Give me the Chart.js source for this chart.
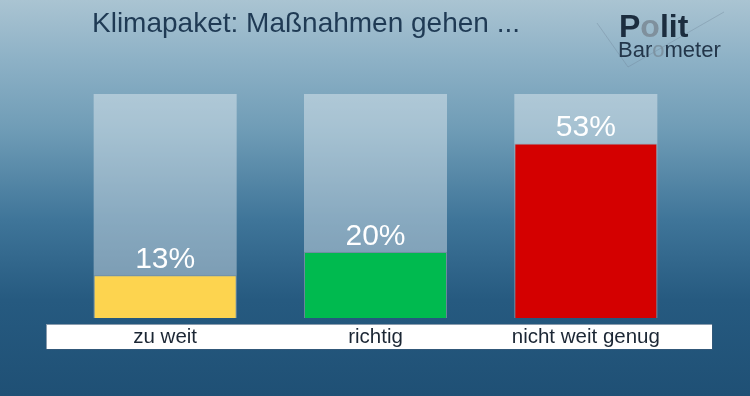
<!DOCTYPE html>
<html>
<head>
<meta charset="utf-8">
<script src="https://cdn.jsdelivr.net/npm/chart.js@4/dist/chart.umd.min.js"></script>
<style>
  html, body { margin: 0; padding: 0; width: 750px; height: 396px; overflow: hidden; }
  body {
    background: linear-gradient(to bottom, #aac4d2 0px, #8db1c6 60px, #6f9cb6 130px, #3f7599 220px, #265a80 300px, #1f5075 396px);
  }
  #wrap { position: relative; width: 750px; height: 396px; }
</style>
</head>
<body>
<div id="wrap"><canvas id="c" width="750" height="396"></canvas></div>
<script>
// ---- data ----
const title = "Klimapaket: Maßnahmen gehen ...";
const categories = ["zu weit", "richtig", "nicht weit genug"];
const values = [13, 20, 53];
const valueLabels = ["13%", "20%", "53%"];
const barColors = ["#fdd44f", "#00ba4f", "#d40000"];
const scaleMax = 68;
const trackValues = categories.map(() => scaleMax);

const FONT = '"Liberation Sans", Arial, Helvetica, sans-serif';

const overlay = {
  id: 'overlay',
  afterDatasetsDraw(chart) {
    const ctx = chart.ctx;
    const x = chart.scales.x, y = chart.scales.y;
    ctx.save();
    ctx.fillStyle = '#ffffff';
    ctx.font = '30px ' + FONT;
    ctx.textAlign = 'center';
    ctx.textBaseline = 'alphabetic';
    values.forEach((v, i) => {
      ctx.fillText(valueLabels[i], x.getPixelForValue(i), y.getPixelForValue(v) - 7);
    });
    ctx.restore();
  },
  afterDraw(chart) {
    const ctx = chart.ctx;
    const x = chart.scales.x;
    ctx.save();
    // white category band
    ctx.fillStyle = '#ffffff';
    ctx.fillRect(46, 324, 666, 25);
    ctx.strokeStyle = 'rgba(60,90,120,0.6)';
    ctx.lineWidth = 1;
    ctx.strokeRect(46.5, 324.5, 666, 25);
    ctx.fillStyle = '#1b2634';
    ctx.font = '20.5px ' + FONT;
    ctx.textAlign = 'center';
    ctx.textBaseline = 'alphabetic';
    categories.forEach((c, i) => ctx.fillText(c, x.getPixelForValue(i), 343));

    // title
    ctx.textAlign = 'left';
    ctx.fillStyle = '#1f3a54';
    ctx.font = '28px ' + FONT;
    ctx.fillText(title, 92, 32);

    // logo check-mark lines
    ctx.strokeStyle = 'rgba(110,130,148,0.35)';
    ctx.lineWidth = 1;
    ctx.beginPath();
    ctx.moveTo(597, 23);
    ctx.lineTo(628, 67);
    ctx.lineTo(724, 12);
    ctx.stroke();

    // logo text "Polit"
    ctx.font = 'bold 32px ' + FONT;
    let px = 619;
    const parts1 = [["P", "#1c2d3f"], ["o", "#7f909d"], ["lit", "#1c2d3f"]];
    parts1.forEach(([t, col]) => { ctx.fillStyle = col; ctx.fillText(t, px, 37); px += ctx.measureText(t).width; });
    // "Barometer"
    ctx.font = '22px ' + FONT;
    px = 618;
    const parts2 = [["Bar", "#23364a"], ["o", "#7d93a2"], ["meter", "#23364a"]];
    parts2.forEach(([t, col]) => { ctx.fillStyle = col; ctx.fillText(t, px, 57); px += ctx.measureText(t).width; });
    ctx.restore();
  }
};

new Chart(document.getElementById('c'), {
  type: 'bar',
  data: {
    labels: categories,
    datasets: [
      {
        label: 'Wert',
        data: values,
        backgroundColor: barColors,
        borderColor: 'rgba(0,0,0,0.12)',
        borderWidth: 1,
        barPercentage: 0.68,
        categoryPercentage: 1.0,
        grouped: false,
        order: 1
      },
      {
        label: 'Skala',
        data: trackValues,
        backgroundColor: 'rgba(255,255,255,0.38)',
        borderWidth: 0,
        barPercentage: 0.68,
        categoryPercentage: 1.0,
        grouped: false,
        order: 2
      }
    ]
  },
  options: {
    responsive: false,
    animation: false,
    layout: { padding: { top: 94, bottom: 78, left: 60, right: 59 } },
    plugins: { legend: { display: false }, title: { display: false }, tooltip: { enabled: false } },
    scales: {
      x: { display: false },
      y: { display: false, min: 0, max: scaleMax }
    }
  },
  plugins: [overlay]
});
</script>
</body>
</html>
